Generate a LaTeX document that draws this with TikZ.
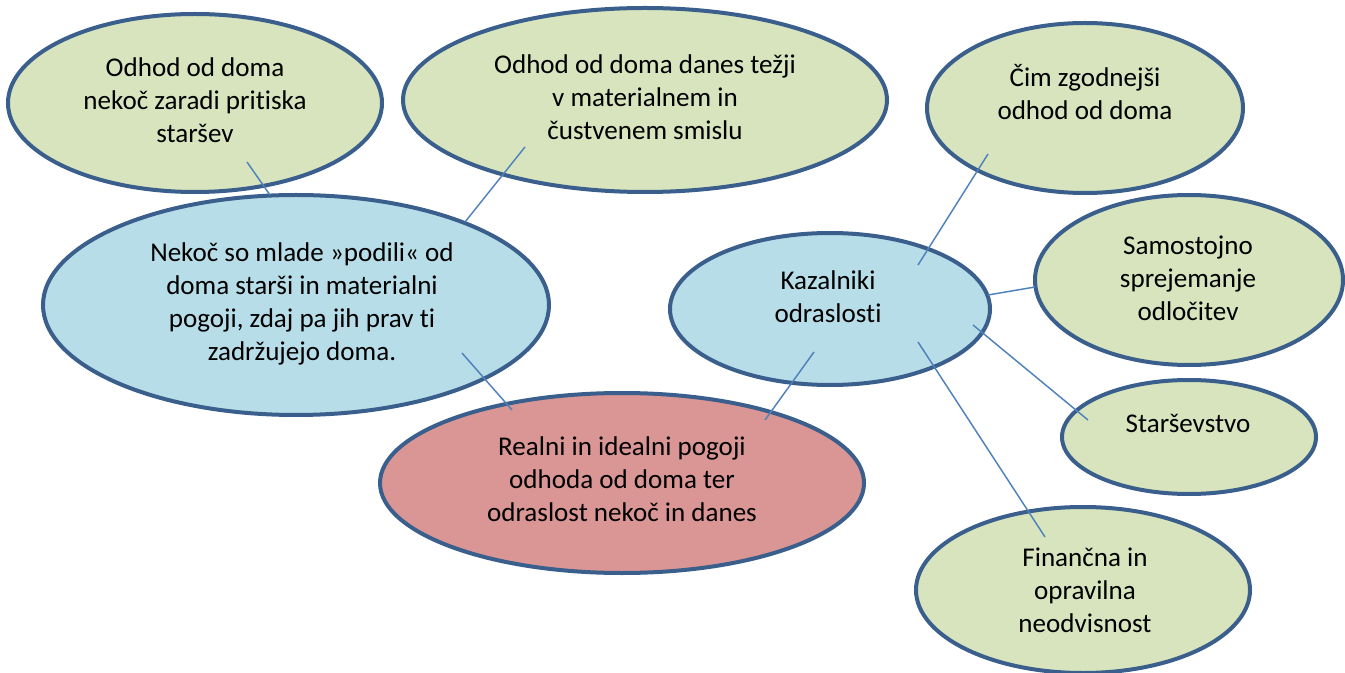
\documentclass[tikz,border=0pt]{standalone}
\usepackage{fontspec}
\setmainfont{Carlito}[Ligatures=NoCommon]
\usetikzlibrary{shapes.geometric}
\definecolor{bord}{HTML}{3A5F8D}
\definecolor{gfill}{HTML}{D7E4BD}
\definecolor{bfill}{HTML}{B7DDE8}
\definecolor{rfill}{HTML}{D99694}
\definecolor{lnk}{HTML}{4F81BD}
\begin{document}
\begin{tikzpicture}[x=0.75pt,y=-0.75pt,
  bub/.style={ellipse, draw=bord, line width=3pt, inner sep=0pt},
  bsz/.style 2 args={minimum width=#1*1.5pt, minimum height=#2*1.5pt},
  gb/.style={bub, fill=gfill},
  bb/.style={bub, fill=bfill},
  rb/.style={bub, fill=rfill},
  lbl/.style={align=center, inner sep=0pt, font=\fontsize{20.3}{24.8}\selectfont},
  link/.style={draw=lnk, line width=1.1pt}]
\useasboundingbox (0,0) rectangle (1345,673);
% ellipses
\node[gb, bsz={187}{89}] (e1) at (195,103) {};
\node[gb, bsz={242}{92}] (e2) at (645,100) {};
\node[gb, bsz={158}{85}] (e3) at (1085,108) {};
\node[bb, bsz={253}{110}] (nek) at (296,305) {};
\node[bb, bsz={160}{76}] (kaz) at (830,309) {};
\node[gb, bsz={154}{85}] (sam) at (1189,280) {};
\node[gb, bsz={127}{57}] (sta) at (1189,437) {};
\node[rb, bsz={242}{90}] (rea) at (622,483) {};
\node[gb, bsz={167}{83}] (fin) at (1083,590) {};
% labels
\node[lbl] (t1) at (195,100) {Odhod od doma\\nekoč zaradi pritiska\\staršev};
\node[lbl] (t2) at (645,97) {Odhod od doma danes težji\\v materialnem in\\čustvenem smislu};
\node[lbl] (t3) at (1085,92) {Čim zgodnejši\\odhod od doma};
\node[lbl] (tn) at (302,304) {Nekoč so mlade »podili« od\\doma starši in materialni\\pogoji, zdaj pa jih prav ti\\zadržujejo doma.};
\node[lbl] (tk) at (828,297) {Kazalniki\\odraslosti};
\node[lbl] (ts) at (1188,278) {Samostojno\\sprejemanje\\odločitev};
\node[lbl] (tst) at (1188,423) {Starševstvo};
\node[lbl] (tr) at (622,479) {Realni in idealni pogoji\\odhoda od doma ter\\odraslost nekoč in danes};
\node[lbl] (tf) at (1085,590) {Finančna in\\opravilna\\neodvisnost};
% connector end points
\coordinate (a1) at (247,162); \coordinate (b1) at (270,195);
\coordinate (a2) at (525,147); \coordinate (b2) at (465,222);
\coordinate (a3) at (462,353); \coordinate (b3) at (512,410);
\coordinate (a4) at (814,352); \coordinate (b4) at (765,420);
\coordinate (a5) at (918,265); \coordinate (b5) at (988,154);
\coordinate (a6) at (988,295); \coordinate (b6) at (1035,287);
\coordinate (a7) at (973,325); \coordinate (b7) at (1088,420);
\coordinate (a8) at (918,342); \coordinate (b8) at (1045,537);
\foreach \i in {1,...,8} {\draw[link] (a\i) -- (b\i);}
\end{tikzpicture}
\end{document}
